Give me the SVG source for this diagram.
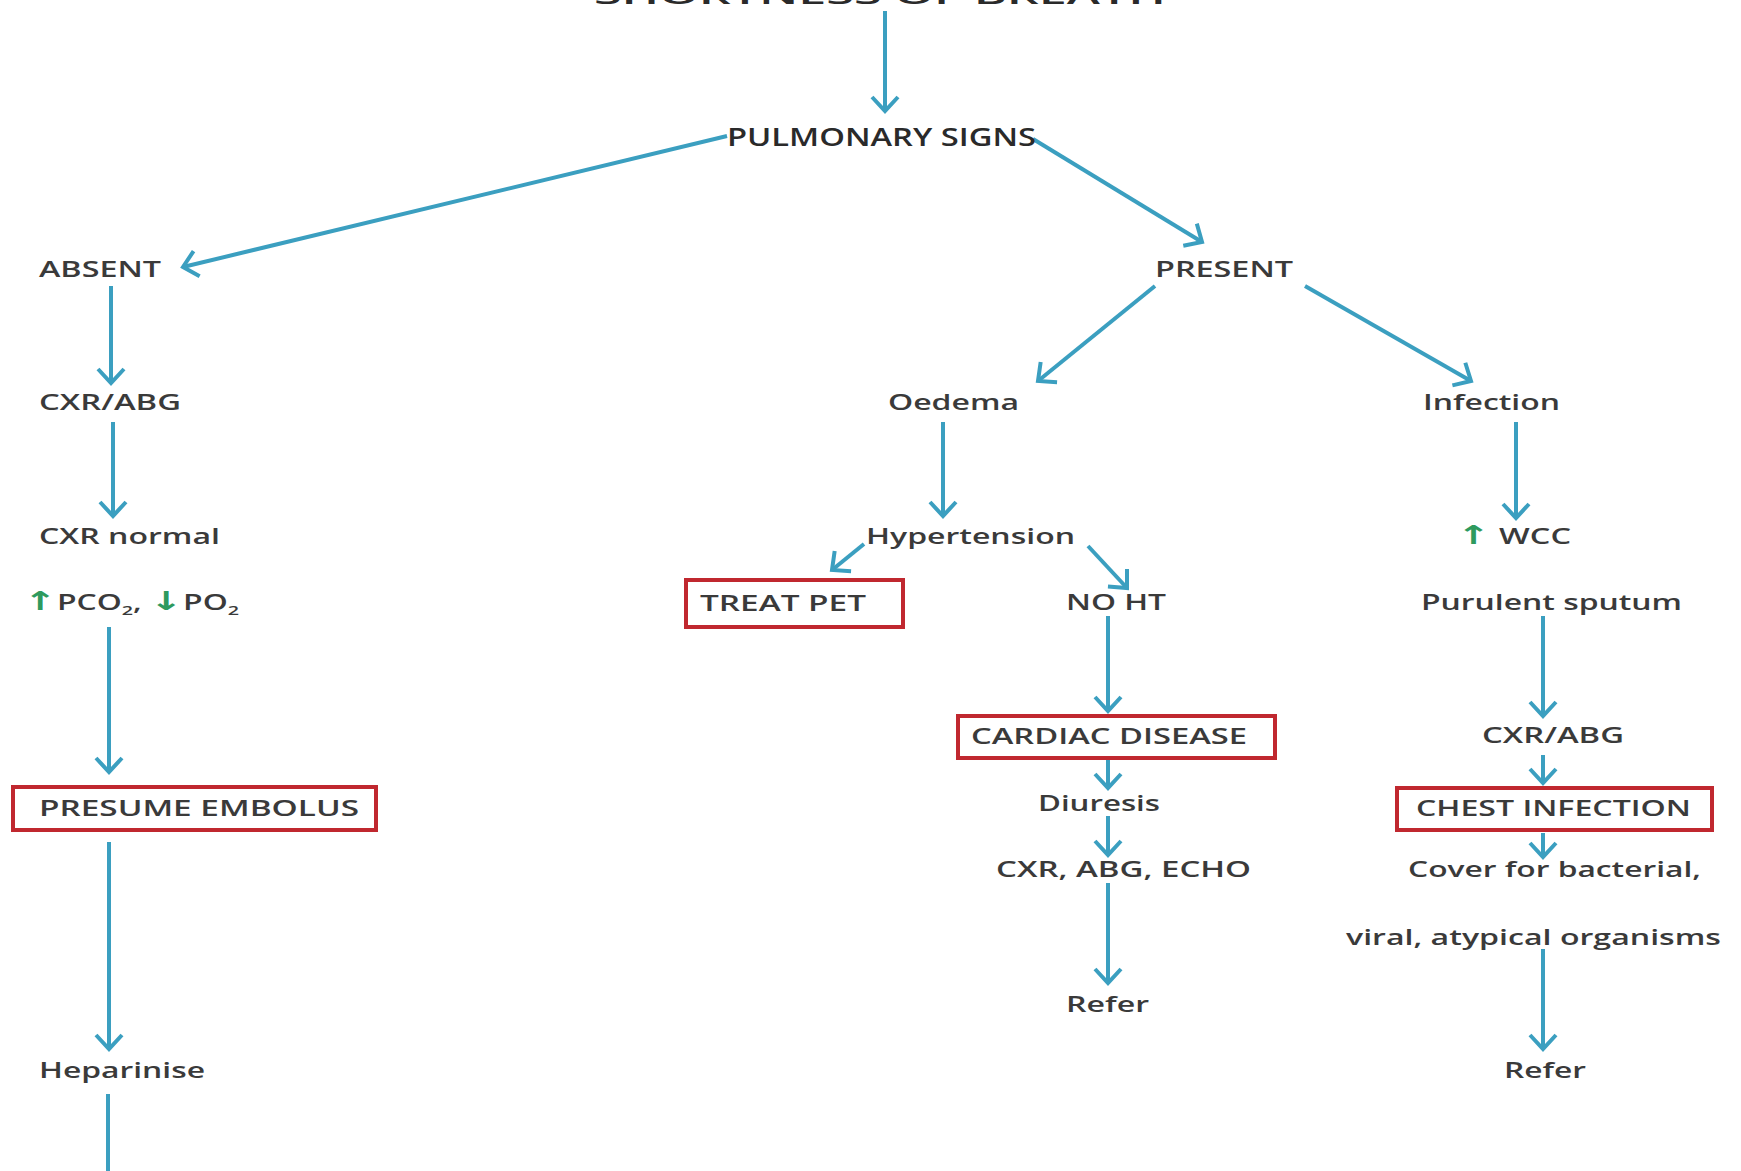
<svg xmlns="http://www.w3.org/2000/svg" width="1741" height="1171" viewBox="0 0 1741 1171">
<defs>
<style>
.t{font-family:"Open Sans","Liberation Sans",sans-serif;font-weight:600;font-size:21px;fill:#3a3a3a}
.c{font-family:"Open Sans","Liberation Sans",sans-serif;font-weight:600;font-size:26px;fill:#2a2a2a}
.g{fill:#2e9a5e;font-family:"DejaVu Sans",sans-serif;font-weight:700;font-size:26px}
.box{fill:#fff;stroke:#c0282f;stroke-width:4}
.con line{stroke:#3b9fc0;stroke-width:4;fill:none}
</style>
<marker id="ah" viewBox="0 0 30 30" refX="27" refY="15" markerWidth="30" markerHeight="30" markerUnits="userSpaceOnUse" orient="auto">
<path d="M13,2 L27,15 L13,28" fill="none" stroke="#3b9fc0" stroke-width="4"/>
</marker>
</defs>
<rect width="1741" height="1171" fill="#fff"/>

<g id="connectors" class="con">
<line x1="885" y1="11" x2="885" y2="111" marker-end="url(#ah)"/>
<line x1="727" y1="136" x2="183" y2="267" marker-end="url(#ah)"/>
<line x1="1033" y1="139" x2="1202" y2="242" marker-end="url(#ah)"/>
<line x1="1155" y1="286" x2="1038" y2="381" marker-end="url(#ah)"/>
<line x1="1305" y1="286" x2="1471" y2="381" marker-end="url(#ah)"/>
<line x1="111" y1="286" x2="111" y2="383" marker-end="url(#ah)"/>
<line x1="113" y1="422" x2="113" y2="516" marker-end="url(#ah)"/>
<line x1="109" y1="627" x2="109" y2="772" marker-end="url(#ah)"/>
<line x1="109" y1="842" x2="109" y2="1049" marker-end="url(#ah)"/>
<line x1="108" y1="1094" x2="108" y2="1171"/>
<line x1="943" y1="422" x2="943" y2="516" marker-end="url(#ah)"/>
<line x1="864" y1="544" x2="832" y2="570" marker-end="url(#ah)"/>
<line x1="1088" y1="546" x2="1127" y2="588" marker-end="url(#ah)"/>
<line x1="1108" y1="616" x2="1108" y2="711" marker-end="url(#ah)"/>
<line x1="1108" y1="760" x2="1108" y2="788" marker-end="url(#ah)"/>
<line x1="1108" y1="816" x2="1108" y2="855" marker-end="url(#ah)"/>
<line x1="1108" y1="883" x2="1108" y2="983" marker-end="url(#ah)"/>
<line x1="1516" y1="422" x2="1516" y2="518" marker-end="url(#ah)"/>
<line x1="1543" y1="616" x2="1543" y2="716" marker-end="url(#ah)"/>
<line x1="1543" y1="755" x2="1543" y2="783" marker-end="url(#ah)"/>
<line x1="1543" y1="833" x2="1543" y2="857" marker-end="url(#ah)"/>
<line x1="1543" y1="949" x2="1543" y2="1049" marker-end="url(#ah)"/>
</g>

<g id="n-top"><text class="c" x="594" y="4" textLength="572" lengthAdjust="spacingAndGlyphs">SHORTNESS OF BREATH</text></g>
<g id="n-pulmonary"><text class="c" x="727" y="146" textLength="309" lengthAdjust="spacingAndGlyphs">PULMONARY SIGNS</text></g>
<g id="n-absent"><text class="t" x="39" y="277" textLength="122" lengthAdjust="spacingAndGlyphs">ABSENT</text></g>
<g id="n-present"><text class="t" x="1155" y="277" textLength="138" lengthAdjust="spacingAndGlyphs">PRESENT</text></g>
<g id="n-cxrabg1"><text class="t" x="39" y="410" textLength="142" lengthAdjust="spacingAndGlyphs">CXR/ABG</text></g>
<g id="n-cxrnormal"><text class="t" x="39" y="544" textLength="181" lengthAdjust="spacingAndGlyphs">CXR normal</text></g>
<g id="n-gases"><text class="t" x="24" y="610" textLength="215" lengthAdjust="spacingAndGlyphs"><tspan class="g">↑</tspan>PCO<tspan font-size="13" dy="5">2</tspan><tspan dy="-5">, </tspan><tspan class="g">↓</tspan>PO<tspan font-size="13" dy="5">2</tspan></text></g>
<g id="n-embolus"><rect class="box" x="13" y="787" width="363" height="43"/><text class="t" x="39" y="816" textLength="320" lengthAdjust="spacingAndGlyphs">PRESUME EMBOLUS</text></g>
<g id="n-heparinise"><text class="t" x="39" y="1078" textLength="166" lengthAdjust="spacingAndGlyphs">Heparinise</text></g>

<g id="n-oedema"><text class="t" x="888" y="410" textLength="131" lengthAdjust="spacingAndGlyphs">Oedema</text></g>
<g id="n-hypertension"><text class="t" x="866" y="544" textLength="209" lengthAdjust="spacingAndGlyphs">Hypertension</text></g>
<g id="n-treatpet"><rect class="box" x="686" y="580" width="217" height="47"/><text class="t" x="700" y="611" textLength="166" lengthAdjust="spacingAndGlyphs">TREAT PET</text></g>
<g id="n-noht"><text class="t" x="1066" y="610" textLength="100" lengthAdjust="spacingAndGlyphs">NO HT</text></g>
<g id="n-cardiac"><rect class="box" x="958" y="716" width="317" height="42"/><text class="t" x="971" y="744" textLength="276" lengthAdjust="spacingAndGlyphs">CARDIAC DISEASE</text></g>
<g id="n-diuresis"><text class="t" x="1038" y="811" textLength="122" lengthAdjust="spacingAndGlyphs">Diuresis</text></g>
<g id="n-cxrabgecho"><text class="t" x="996" y="877" textLength="255" lengthAdjust="spacingAndGlyphs">CXR, ABG, ECHO</text></g>
<g id="n-refer1"><text class="t" x="1066" y="1012" textLength="83" lengthAdjust="spacingAndGlyphs">Refer</text></g>

<g id="n-infection"><text class="t" x="1423" y="410" textLength="137" lengthAdjust="spacingAndGlyphs">Infection</text></g>
<g id="n-wcc"><text class="t" x="1457" y="544" textLength="114" lengthAdjust="spacingAndGlyphs"><tspan class="g">↑</tspan> WCC</text></g>
<g id="n-sputum"><text class="t" x="1421" y="610" textLength="261" lengthAdjust="spacingAndGlyphs">Purulent sputum</text></g>
<g id="n-cxrabg2"><text class="t" x="1482" y="743" textLength="142" lengthAdjust="spacingAndGlyphs">CXR/ABG</text></g>
<g id="n-chest"><rect class="box" x="1397" y="788" width="315" height="42"/><text class="t" x="1416" y="816" textLength="275" lengthAdjust="spacingAndGlyphs">CHEST INFECTION</text></g>
<g id="n-cover"><text class="t" x="1408" y="877" textLength="293" lengthAdjust="spacingAndGlyphs">Cover for bacterial,</text><text class="t" x="1346" y="945" textLength="375" lengthAdjust="spacingAndGlyphs">viral, atypical organisms</text></g>
<g id="n-refer2"><text class="t" x="1504" y="1078" textLength="82" lengthAdjust="spacingAndGlyphs">Refer</text></g>
</svg>
